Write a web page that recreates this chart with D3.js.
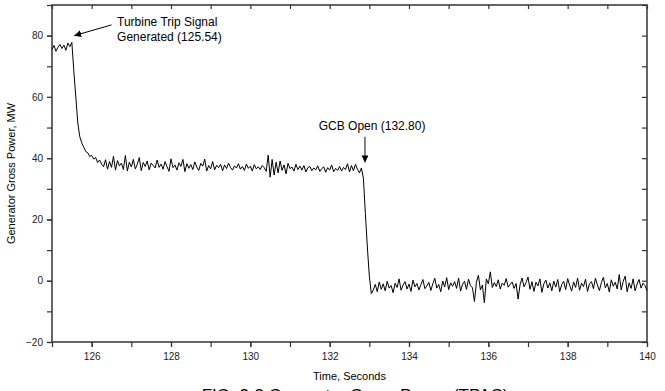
<!DOCTYPE html>
<html>
<head>
<meta charset="utf-8">
<script src="https://cdn.jsdelivr.net/npm/d3@7"></script>
<style>
  body { margin: 0; background: #fff; }
  svg { display: block; font-family: "Liberation Sans", Arial, sans-serif; }
</style>
</head>
<body>
<svg id="chart" width="665" height="391"></svg>
<script>
// Sampling of the recorded signal
const timeStart = 125.0;
const sampleStep = 0.05;

// Generator gross power (MW)
const preTrip = [75.5, 76.8, 74.9, 76.2, 77.1, 75.8, 76.9, 75.2, 77.6, 76.4, 77.8];
const tripDecay = [68.5, 60, 51.5, 47, 45, 43.6, 42.2, 41.8, 40.6, 40.9, 39.7, 40.2, 38.6, 39.4, 38.1];
const plateau = [
  37.2, 39.5, 36.4, 38.9, 37.0, 40.6, 36.1, 39.2, 37.5, 38.4,
  36.3, 40.9, 35.8, 38.7, 37.1, 39.6, 36.5, 38.0, 40.2, 35.9,
  38.6, 37.3, 39.1, 36.2, 38.4, 37.6, 36.8, 39.4, 37.0, 38.1,
  36.4, 38.9, 37.2, 35.7, 39.8, 36.9, 37.8, 36.1, 38.5, 37.3,
  39.6, 35.6, 38.2, 36.7, 37.9, 36.3, 38.8, 37.1, 36.0, 38.3,
  37.4, 39.7, 35.8, 37.6, 36.5, 38.9, 36.2, 37.7, 36.9, 38.0,
  35.9, 37.8, 36.6, 38.4, 37.0, 36.1, 37.5, 36.8, 38.2, 36.4,
  37.3, 36.0, 38.1, 36.7, 37.4, 35.8, 37.9, 36.5, 37.2, 36.3,
  37.6, 36.9, 35.7, 41.0, 33.8, 39.6, 34.5, 38.7, 35.2, 39.1,
  36.0, 37.8, 34.9, 38.3, 36.6, 37.1, 35.8, 38.0, 36.3, 37.4,
  36.1, 37.6, 35.5, 36.9, 37.3, 35.9, 36.8, 36.2, 37.5, 35.7,
  36.6, 37.2, 35.4, 36.9, 36.1, 37.8, 35.6, 36.7, 36.0, 37.3,
  35.8, 37.0, 36.3, 38.2, 35.5, 37.6, 35.9, 38.0, 36.4, 35.2,
  36.8
];
const gcbDrop = [33.5, 22.0, 11.0, 1.5, -4.2, -3.0];
const postOpen = [
  -1.2, -3.6, -0.4, -2.8, -1.0, -3.3, -0.2, -2.4, -1.6, -3.9,
  -0.8, -2.2, 0.6, -3.1, -1.4, -0.3, -2.7, -1.1, -3.5, 0.2,
  -2.0, -0.9, -3.0, -1.3, 0.4, -2.6, -1.7, -0.5, -3.2, -1.0,
  0.8, -2.4, -1.2, -3.6, -0.1, -2.0, 1.0, -2.9, -0.7, -1.8,
  -0.3, -2.5, 0.9, -3.4, -1.1, -0.2, -2.8, 0.5, -1.6, -2.3,
  -6.8, -0.5, 1.8, -3.0, -1.4, -7.2, 0.6, -1.0, 2.9, -2.2,
  -0.6, -1.9, 0.3, -2.7, -0.8, -1.5, 0.7, -2.1, -1.2, -0.4,
  -2.5, -0.9, -6.0, -1.3, 0.9, -2.0, -0.6, 1.2, -2.8, -0.3,
  -3.5, -0.5, -1.7, 0.6, -3.8, -1.0, 0.2, -2.4, -0.7, -3.3,
  -0.1, -2.1, 0.4, -3.6, -1.2, -0.2, -2.9, 0.7, -1.5, -3.4,
  -0.4, -2.2, 0.9, -3.1, -0.8, -1.9, 0.5, -3.5, -1.0, -0.3,
  -2.6, 0.8, -1.4, -3.2, -0.6, 1.1, -2.3, -0.9, -3.7, 0.3,
  -1.8, -0.5, -2.7, 2.0, -3.0, -0.2, 1.5, -3.6, -0.7, -2.5,
  0.6, -3.3, -1.1, 0.4, -2.4, -0.8, -1.6, -3.2
];

const xMajorTicks = [126, 128, 130, 132, 134, 136, 138, 140];
const yMajorTicks = [-20, 0, 20, 40, 60, 80];

const powerValues = preTrip.concat(tripDecay, plateau, gcbDrop, postOpen);
const data = powerValues.map((v, i) => ({ t: timeStart + i * sampleStep, p: v }));

const svg = d3.select("#chart");
const plotLeft = 52, plotRight = 647, plotTop = 5, plotBottom = 342;

const x = d3.scaleLinear().domain([125, 140]).range([plotLeft, plotRight]);
const y = d3.scaleLinear().domain([-20, 90]).range([plotBottom, plotTop]);

const axisColor = "#333";

// minor ticks first (no labels)
svg.append("g")
  .attr("transform", `translate(0,${plotBottom})`)
  .call(d3.axisBottom(x).tickValues(d3.range(125, 141, 1)).tickSize(5).tickFormat(""));
svg.append("g")
  .attr("transform", `translate(${plotLeft},0)`)
  .call(d3.axisLeft(y).tickValues(d3.range(-20, 91, 10)).tickSize(5).tickFormat(""));

// top and right: inward ticks
svg.append("g")
  .attr("transform", `translate(0,${plotTop})`)
  .call(d3.axisBottom(x).tickValues(d3.range(125, 141, 1)).tickSize(4).tickFormat(""));
svg.append("g")
  .attr("transform", `translate(${plotRight},0)`)
  .call(d3.axisLeft(y).tickValues(d3.range(-20, 91, 10)).tickSize(5).tickFormat(""));

// major labelled axes
const xAxis = svg.append("g")
  .attr("transform", `translate(0,${plotBottom})`)
  .call(d3.axisBottom(x).tickValues(xMajorTicks).tickSize(5).tickPadding(6).tickFormat(d3.format("d")));
const yAxis = svg.append("g")
  .attr("transform", `translate(${plotLeft},0)`)
  .call(d3.axisLeft(y).tickValues(yMajorTicks).tickSize(5).tickPadding(4).tickFormat(d3.format("d")));

[xAxis, yAxis].forEach(g => g.selectAll("text")
  .style("font-size", "10px")
  .style("font-family", "Liberation Sans, Arial, sans-serif")
  .attr("fill", "#222"));

svg.selectAll(".tick line").attr("stroke", axisColor).attr("stroke-width", 1.2);
svg.selectAll(".domain").remove();

// frame
svg.append("rect")
  .attr("x", plotLeft).attr("y", plotTop)
  .attr("width", plotRight - plotLeft).attr("height", plotBottom - plotTop)
  .attr("fill", "none")
  .attr("stroke", axisColor)
  .attr("stroke-width", 1.5);

// signal trace
svg.append("path")
  .datum(data)
  .attr("fill", "none")
  .attr("stroke", "#000")
  .attr("stroke-width", 1)
  .attr("stroke-linejoin", "round")
  .attr("d", d3.line().x(d => x(d.t)).y(d => y(d.p)));

// axis titles
svg.append("text")
  .attr("x", (plotLeft + plotRight) / 2)
  .attr("y", 380)
  .attr("text-anchor", "middle")
  .style("font-size", "11px")
  .text("Time, Seconds");

svg.append("text")
  .attr("transform", `translate(15,${(plotTop + plotBottom) / 2}) rotate(-90)`)
  .attr("text-anchor", "middle")
  .style("font-size", "11px")
  .text("Generator Gross Power, MW");

// figure caption (cut off at the bottom edge)
svg.append("text")
  .attr("x", 355)
  .attr("y", 401)
  .attr("text-anchor", "middle")
  .style("font-size", "17px")
  .text("FIG. 3-3 Generator Gross Power (TPAC)");

// arrow head marker
svg.append("defs").append("marker")
  .attr("id", "head")
  .attr("viewBox", "0 0 10 10")
  .attr("refX", 10).attr("refY", 5)
  .attr("markerWidth", 7).attr("markerHeight", 7)
  .attr("markerUnits", "userSpaceOnUse")
  .attr("orient", "auto")
  .append("path")
  .attr("d", "M0,0 L10,5 L0,10 Z")
  .attr("fill", "#000");

// annotation: turbine trip
svg.append("line")
  .attr("x1", x(126.5)).attr("y1", y(83.5))
  .attr("x2", x(125.56)).attr("y2", y(80))
  .attr("stroke", "#000").attr("stroke-width", 1)
  .attr("marker-end", "url(#head)");
const trip = svg.append("text")
  .attr("x", x(126.64))
  .attr("y", y(83))
  .style("font-size", "12px");
trip.append("tspan").text("Turbine Trip Signal");
trip.append("tspan").attr("x", x(126.64)).attr("dy", 15).text("Generated (125.54)");

// annotation: GCB open
svg.append("line")
  .attr("x1", x(132.89)).attr("y1", y(47))
  .attr("x2", x(132.89)).attr("y2", y(38.6))
  .attr("stroke", "#333").attr("stroke-width", 1.2)
  .attr("marker-end", "url(#head)");
svg.append("text")
  .attr("x", x(133.07))
  .attr("y", y(49.3))
  .attr("text-anchor", "middle")
  .style("font-size", "12px")
  .text("GCB Open (132.80)");
</script>
</body>
</html>
